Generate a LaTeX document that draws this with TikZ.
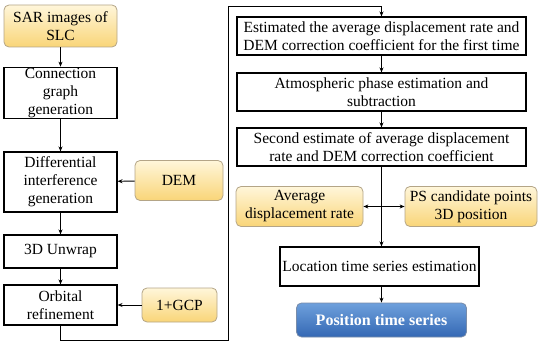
\documentclass[tikz,border=0pt]{standalone}
\usepackage{fontspec}
\setmainfont{Liberation Serif}
\usepackage{tikz}
\usetikzlibrary{positioning, calc, arrows.meta}
\usepackage{xcolor}
\definecolor{inputtop}{RGB}{255,246,218}
\definecolor{inputbot}{RGB}{249,213,120}
\definecolor{inputline}{RGB}{180,165,135}
\definecolor{resulttop}{RGB}{110,160,220}
\definecolor{resultbot}{RGB}{52,104,180}
\definecolor{resultline}{RGB}{120,140,170}

\begin{document}
\begin{tikzpicture}[
    x=1pt, y=-1pt,
    font=\rmfamily\fontsize{15.5}{18}\selectfont,
    procbox/.style={rectangle, draw, line width=1.1pt, align=center, inner sep=1pt},
    inputbox/.style={rectangle, rounded corners=5pt, draw=inputline, line width=0.8pt, align=center,
        top color=inputtop, bottom color=inputbot, inner sep=1pt},
    resultbox/.style={rectangle, rounded corners=5pt, draw=resultline, line width=0.8pt, align=center,
        top color=resulttop, bottom color=resultbot, text=white, font=\rmfamily\fontsize{16}{18}\selectfont\bfseries},
    arr/.style={-{Stealth[length=5pt, width=4pt]}, line width=0.9pt},
    arrboth/.style={{Stealth[length=5pt, width=4pt]}-{Stealth[length=5pt, width=4pt]}, line width=0.9pt}
]
\useasboundingbox (0,0) rectangle (550,345);

% left column
\node[inputbox, minimum width=113pt, minimum height=42pt] (sar) at (60.5,26) {SAR images of\\SLC};
\node[procbox, minimum width=113pt, minimum height=50pt] (conn) at (60.5,93) {Connection\\graph\\generation};
\node[procbox, minimum width=113pt, minimum height=60pt] (diff) at (60.5,182) {Differential\\interference\\generation};
\node[procbox, minimum width=113pt, minimum height=33pt] (unwrap) at (60.5,251.5) {3D Unwrap};
\node[procbox, minimum width=113pt, minimum height=40pt] (orbit) at (60.5,305) {Orbital\\refinement};

\node[inputbox, minimum width=88pt, minimum height=40pt] (dem) at (179,180.5) {DEM};
\node[inputbox, minimum width=75pt, minimum height=34pt] (gcp) at (179.5,305) {1+GCP};

% right column
\node[procbox, minimum width=289pt, minimum height=38pt] (est) at (381.5,36) {Estimated the average displacement rate and\\DEM correction coefficient for the first time};
\node[procbox, minimum width=289pt, minimum height=38pt] (atm) at (381.5,92) {Atmospheric phase estimation and\\subtraction};
\node[procbox, minimum width=289pt, minimum height=38pt] (sec) at (381.5,147) {Second estimate of average displacement\\rate and DEM correction coefficient};

\node[inputbox, minimum width=127pt, minimum height=40pt] (avg) at (299.5,206.5) {Average\\displacement rate};
\node[inputbox, minimum width=132pt, minimum height=40pt] (ps) at (471,206.5) {PS candidate points\\3D position};

\node[procbox, minimum width=199pt, minimum height=39pt] (loc) at (379.5,266.5) {Location time series estimation};
\node[resultbox, minimum width=170pt, minimum height=34pt] (pos) at (381.5,320) {Position time series};

\coordinate (bendA) at (60.5,340);
\coordinate (bendB) at (228,340);
\coordinate (bendC) at (228,6);

\draw[arr] (sar) -- (conn);
\draw[arr] (conn) -- (diff);
\draw[arr] (diff) -- (unwrap);
\draw[arr] (unwrap) -- (orbit);
\draw[arr] (dem) -- (diff);
\draw[arr] (gcp) -- (orbit);
\draw[arr] (orbit.south) -- (bendA) -- (bendB) -- (bendC) -| (est.north);

\draw[arr] (est) -- (atm);
\draw[arr] (atm) -- (sec);
\draw[arr] (sec.south) -- (sec.south |- loc.north);
\draw[arrboth] (avg.east) -- (ps.west);
\draw[arr] (sec.south |- loc.south) -- (pos.north);
\end{tikzpicture}
\end{document}
